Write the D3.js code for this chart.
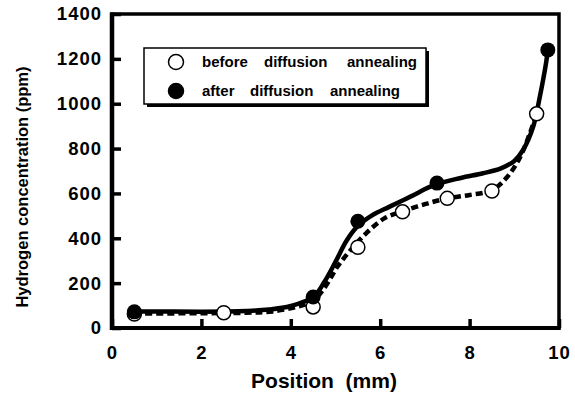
<!DOCTYPE html>
<html>
<head>
<meta charset="utf-8">
<script src="https://cdn.jsdelivr.net/npm/d3@7"></script>
<style>
  html, body { margin: 0; padding: 0; background: #fff; }
  svg { display: block; font-family: "Liberation Sans", Arial, Helvetica, sans-serif; font-weight: bold; }
</style>
</head>
<body>
<svg id="chart" width="575" height="401"></svg>
<script>
// Measured hydrogen content (ppm) along the specimen (mm)
const beforeX = [0.5, 2.5, 4.5, 5.5, 6.5, 7.5, 8.5, 9.5];
const beforeY = [62, 68, 94, 360, 518, 578, 611, 955];
const afterX = [0.5, 4.5, 5.5, 7.27, 9.75];
const afterY = [72, 138, 476, 646, 1240];

// Fitted trend curves through each profile
const afterFitX = [0.5, 2.0, 3.0, 3.5, 4.0, 4.5, 4.75, 5.0, 5.25, 5.5, 5.8, 6.2, 6.7, 7.2, 7.8, 8.3, 8.7, 9.0, 9.2, 9.42, 9.57, 9.71, 9.75];
const afterFitY = [74, 73, 76, 82, 98, 138, 205, 295, 390, 455, 500, 540, 588, 637, 669, 690, 712, 745, 795, 896, 1030, 1181, 1240];
const beforeFitX = [0.5, 2.0, 3.0, 3.6, 4.2, 4.5, 4.75, 5.05, 5.35, 5.7, 6.1, 6.5, 7.0, 7.5, 8.0, 8.5, 8.84, 9.13, 9.35, 9.55];
const beforeFitY = [64, 66, 68, 74, 98, 122, 178, 275, 350, 425, 490, 520, 552, 578, 593, 615, 673, 762, 869, 985];

const xTicks = [0, 2, 4, 6, 8, 10];
const yTicks = [0, 200, 400, 600, 800, 1000, 1200, 1400];

const legendRows = [
  { filled: false, words: ["before", "diffusion", "annealing"], wordX: [202, 264, 347] },
  { filled: true,  words: ["after", "diffusion", "annealing"],  wordX: [202, 250, 330] }
];

const svg = d3.select("#chart");
const x = d3.scaleLinear().domain([0, 10]).range([112, 559]);
const y = d3.scaleLinear().domain([0, 1400]).range([328, 14]);

// Plot frame
svg.append("rect")
  .attr("x", x(0)).attr("y", y(1400))
  .attr("width", x(10) - x(0)).attr("height", y(0) - y(1400))
  .attr("fill", "none").attr("stroke", "#000").attr("stroke-width", 3.5);
// heavier left and bottom axis lines
svg.append("line")
  .attr("x1", x(0)).attr("x2", x(0)).attr("y1", y(1400) - 1.5).attr("y2", y(0) + 2)
  .attr("stroke", "#000").attr("stroke-width", 4.5);
svg.append("line")
  .attr("x1", x(0) - 2).attr("x2", x(10) + 1.5).attr("y1", y(0)).attr("y2", y(0))
  .attr("stroke", "#000").attr("stroke-width", 4);

// Axes with inward ticks
const xAxis = d3.axisBottom(x).tickValues(xTicks).tickFormat(d3.format("d"))
  .tickSizeInner(-9).tickSizeOuter(0).tickPadding(25);
const yAxis = d3.axisLeft(y).tickValues(yTicks).tickFormat(d3.format("d"))
  .tickSizeInner(-9).tickSizeOuter(0).tickPadding(10);

const gx = svg.append("g").attr("transform", `translate(0,${y(0)})`).call(xAxis);
const gy = svg.append("g").attr("transform", `translate(${x(0)},0)`).call(yAxis);
[gx, gy].forEach(g => {
  g.select(".domain").remove();
  g.selectAll(".tick line").attr("stroke", "#000").attr("stroke-width", 3.5);
  g.selectAll(".tick text")
    .attr("fill", "#000")
    .style("font-size", "18.5px")
    .style("font-weight", "bold")
    .style("letter-spacing", "1px")
    .style("font-family", "'Liberation Sans', Arial, sans-serif");
});
gx.selectAll(".tick text").attr("dy", "0.35em");

// Axis titles
svg.append("text")
  .attr("x", 324).attr("y", 388)
  .attr("text-anchor", "middle")
  .style("font-size", "21px")
  .attr("xml:space", "preserve")
  .text("Position  (mm)");

svg.append("text")
  .attr("transform", "translate(28,187) rotate(-90)")
  .attr("text-anchor", "middle")
  .style("font-size", "16.5px")
  .text("Hydrogen concentration (ppm)");

// Trend curves
const line = d3.line().x(d => x(d[0])).y(d => y(d[1])).curve(d3.curveCatmullRom.alpha(0.5));

svg.append("path")
  .datum(beforeFitX.map((v, i) => [v, beforeFitY[i]]))
  .attr("d", line)
  .attr("fill", "none").attr("stroke", "#000")
  .attr("stroke-width", 4.5).attr("stroke-dasharray", "7,4");

svg.append("path")
  .datum(afterFitX.map((v, i) => [v, afterFitY[i]]))
  .attr("d", line)
  .attr("fill", "none").attr("stroke", "#000")
  .attr("stroke-width", 4.5);

// Markers
svg.append("g").selectAll("circle")
  .data(beforeX.map((v, i) => [v, beforeY[i]]))
  .join("circle")
  .attr("cx", d => x(d[0])).attr("cy", d => y(d[1])).attr("r", 7)
  .attr("fill", "#fff").attr("stroke", "#000").attr("stroke-width", 1.5);

svg.append("g").selectAll("circle")
  .data(afterX.map((v, i) => [v, afterY[i]]))
  .join("circle")
  .attr("cx", d => x(d[0])).attr("cy", d => y(d[1])).attr("r", 7.5)
  .attr("fill", "#000");

// Legend box with drop shadow
const lg = svg.append("g");
lg.append("rect")
  .attr("x", 147).attr("y", 51).attr("width", 282).attr("height", 56)
  .attr("fill", "#000");
lg.append("rect")
  .attr("x", 144).attr("y", 48).attr("width", 282).attr("height", 56)
  .attr("fill", "#fff").attr("stroke", "#000").attr("stroke-width", 1.5);

legendRows.forEach((row, i) => {
  const cy = 62 + i * 29;
  lg.append("circle")
    .attr("cx", 176).attr("cy", cy).attr("r", 7.5)
    .attr("fill", row.filled ? "#000" : "#fff")
    .attr("stroke", "#000").attr("stroke-width", 1.5);
  const t = lg.append("text").attr("y", cy).attr("dy", "0.35em").style("font-size", "15px");
  row.words.forEach((w, j) => t.append("tspan").attr("x", row.wordX[j]).text(w));
});
</script>
</body>
</html>
